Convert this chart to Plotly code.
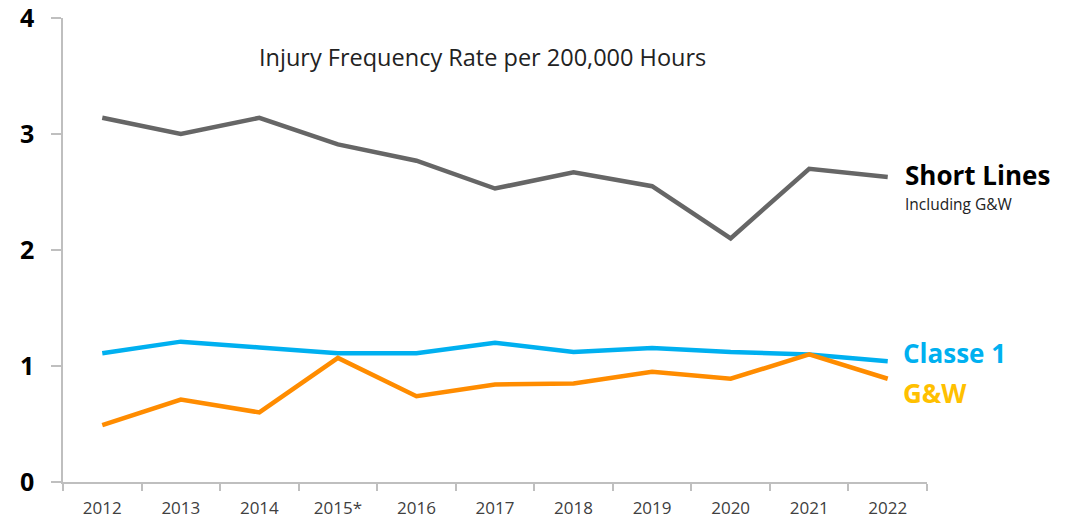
import plotly.graph_objects as go

years = ["2012", "2013", "2014", "2015*", "2016", "2017", "2018", "2019", "2020", "2021", "2022"]
short_lines = [3.14, 3.00, 3.14, 2.91, 2.77, 2.53, 2.67, 2.55, 2.10, 2.70, 2.63]
classe1 = [1.11, 1.21, 1.16, 1.11, 1.11, 1.20, 1.12, 1.155, 1.12, 1.10, 1.04]
gw = [0.49, 0.71, 0.60, 1.07, 0.74, 0.84, 0.85, 0.95, 0.89, 1.10, 0.89]
y_ticks = [0, 1, 2, 3, 4]

FONT = "Open Sans"

fig = go.Figure()
fig.add_trace(go.Scatter(x=years, y=short_lines, mode="lines",
                         line=dict(color="#666666", width=4.5), showlegend=False))
fig.add_trace(go.Scatter(x=years, y=classe1, mode="lines",
                         line=dict(color="#00b0f0", width=4.5), showlegend=False))
fig.add_trace(go.Scatter(x=years, y=gw, mode="lines",
                         line=dict(color="#ff8c00", width=4.5), showlegend=False))

fig.update_layout(
    width=1069, height=521,
    margin=dict(l=63, r=142, t=18, b=39),
    paper_bgcolor="white", plot_bgcolor="white",
    font=dict(family=FONT),
    xaxis=dict(
        type="category", range=[-0.5, len(years) - 0.5], automargin=False,
        showgrid=False, zeroline=False,
        showline=True, linecolor="#bfbfbf", linewidth=1.5,
        ticks="outside", ticklen=7, tickcolor="#bfbfbf", tickwidth=1.5,
        tickson="boundaries", ticklabelstandoff=10, ticklabeloverflow="allow",
        tickfont=dict(family=FONT, size=17, color="#404040"),
    ),
    yaxis=dict(
        range=[0, 4], tickvals=y_ticks, automargin=False,
        showgrid=False, zeroline=False,
        showline=True, linecolor="#bfbfbf", linewidth=1.5,
        ticks="outside", ticklen=10, tickcolor="#bfbfbf", tickwidth=1.5,
        ticklabelstandoff=12, ticklabeloverflow="allow",
        tickfont=dict(family=FONT, size=25, color="black", weight="bold"),
    ),
    annotations=[
        dict(text="Injury Frequency Rate per 200,000 Hours", xref="paper", yref="y",
             x=0.486, y=3.66, xanchor="center", yanchor="middle", showarrow=False,
             font=dict(family=FONT, size=23.5, color="#222222")),
        dict(text="<b>Short Lines</b>", xref="paper", yref="y",
             x=0.972, y=2.65, xanchor="left", yanchor="middle", showarrow=False,
             font=dict(family=FONT, size=26, color="black")),
        dict(text="Including G&W", xref="paper", yref="y",
             x=0.972, y=2.40, xanchor="left", yanchor="middle", showarrow=False,
             font=dict(family=FONT, size=15.5, color="#222222")),
        dict(text="<b>Classe 1</b>", xref="paper", yref="y",
             x=0.97, y=1.11, xanchor="left", yanchor="middle", showarrow=False,
             font=dict(family=FONT, size=26, color="#00b0f0")),
        dict(text="<b>G&W</b>", xref="paper", yref="y",
             x=0.97, y=0.77, xanchor="left", yanchor="middle", showarrow=False,
             font=dict(family=FONT, size=26, color="#ffc000")),
    ],
)

fig.write_html("out.html", config={"displayModeBar": False},
               post_script="document.body.style.margin='0px';document.body.style.padding='0px';")
